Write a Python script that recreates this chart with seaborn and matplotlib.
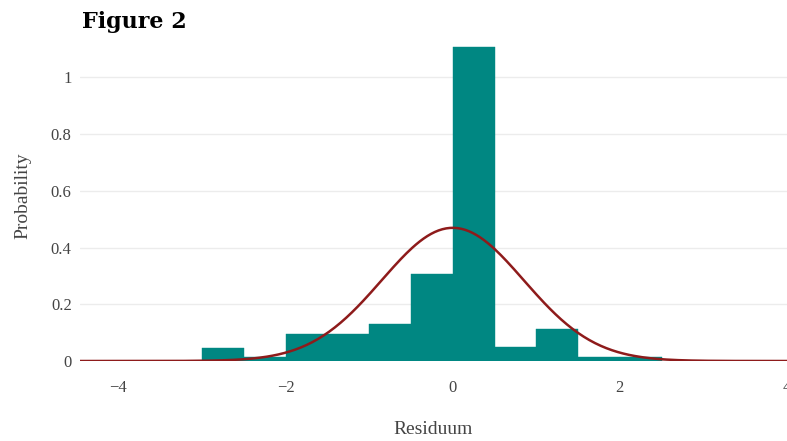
import numpy as np
import pandas as pd
import matplotlib
matplotlib.use("Agg")
import matplotlib.pyplot as plt
import seaborn as sns

# histogram (bin width 0.5)
bin_edges = [-3.0, -2.5, -2.0, -1.5, -1.0, -0.5, 0.0, 0.5, 1.0, 1.5, 2.0, 2.5]
bin_heights = [0.047, 0.013, 0.095, 0.095, 0.13, 0.306, 1.105, 0.048, 0.113, 0.013, 0.013]

# fitted normal curve
fit_mu = 0.0
fit_sigma = 0.85

y_ticks = [0, 0.2, 0.4, 0.6, 0.8, 1]
y_labels = ["0", "0.2", "0.4", "0.6", "0.8", "1"]
x_ticks = [-4, -2, 0, 2, 4]
x_labels = ["\u22124", "\u22122", "0", "2", "4"]

centers = [(a + b) / 2 for a, b in zip(bin_edges[:-1], bin_edges[1:])]
df = pd.DataFrame({"Residuum": centers, "h": bin_heights})

sns.set_style("white")
plt.rcParams["font.family"] = ["Liberation Serif", "DejaVu Serif"]

fig = plt.figure(figsize=(7.87, 4.41), dpi=100)
ax = fig.add_axes([0.1017, 0.1814, 0.8983, 0.7483])

# grid
for t in y_ticks[1:]:
    ax.axhline(t, color="#ececec", lw=1, zorder=0)
ax.axhline(0, color="#cfcfcf", lw=1.2, zorder=0)

sns.histplot(data=df, x="Residuum", weights="h", bins=bin_edges, stat="count",
             color="#008782", alpha=1, edgecolor="#008782", linewidth=0.3, ax=ax, zorder=2)

xs = np.linspace(-4.5, 4.5, 400)
pdf = np.exp(-0.5 * ((xs - fit_mu) / fit_sigma) ** 2) / (fit_sigma * np.sqrt(2 * np.pi))
sns.lineplot(x=xs, y=pdf, color="#8e1b1b", lw=1.8, ax=ax, zorder=3)

ax.set_xlim(-4.46, 4.0)
ax.set_ylim(0, 1.163)
ax.set_xticks(x_ticks)
ax.set_xticklabels(x_labels)
ax.set_yticks(y_ticks)
ax.set_yticklabels(y_labels)
ax.tick_params(axis="both", length=0, colors="#444444", labelsize=12)
ax.tick_params(axis="x", pad=14)
ax.tick_params(axis="y", pad=6)
for s in ax.spines.values():
    s.set_visible(False)

ax.set_xlabel("Residuum", fontsize=14, color="#444444", labelpad=18)
ax.set_ylabel("Probability", fontsize=14, color="#444444", labelpad=14)

fig.text(0.104, 0.95, "Figure 2", fontsize=16, fontweight="bold",
         family=["DejaVu Serif"], color="black", va="center", ha="left")

fig.savefig("out.png", dpi=100)
